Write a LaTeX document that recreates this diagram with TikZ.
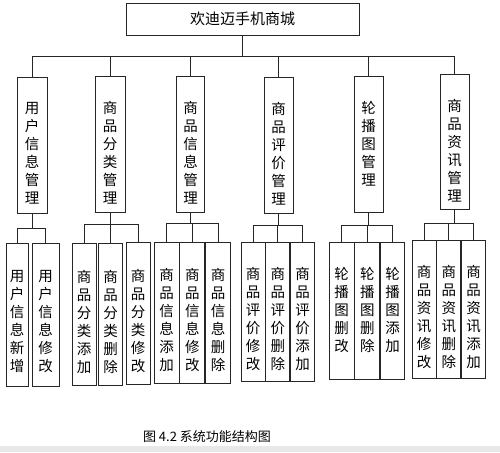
\documentclass[tikz,border=0pt]{standalone}
\usepackage{fontspec}
\setmainfont{Noto Sans CJK SC}
\usetikzlibrary{positioning}

\begin{document}
\begin{tikzpicture}[x=1pt, y=-1pt,
  every node/.style={font=\fontsize{14}{18}\selectfont},
  topbox/.style={draw=black!85, line width=0.8pt, minimum width=233pt, minimum height=32pt,
                 inner sep=0pt, font=\fontsize{15}{17}\selectfont},
  modbox/.style={draw=black!85, line width=0.8pt, anchor=north, minimum width=29pt,
                 minimum height=136pt, inner sep=0pt},
  funbox/.style={draw=black!85, line width=0.8pt, anchor=north, minimum width=24pt,
                 minimum height=142pt, inner sep=0pt},
  vtext/.style={anchor=north, align=center, inner sep=0pt, yshift=-25pt,
                font=\fontsize{14.5}{18}\selectfont},
  link/.style={draw=black!85, line width=0.8pt}
]
  \useasboundingbox (0,0) rectangle (500,452);
  \fill[black!9] (0,446) rectangle (500,452);

  % top level
  \node[topbox] (top) at (242.5,19) {欢迪迈手机商城};

  % modules
  \node[modbox, minimum width=30pt, label={[vtext]north:{用\\户\\信\\息\\管\\理}}] (usr) at (32,77) {};
  \node[modbox, minimum width=30pt, label={[vtext]north:{商\\品\\分\\类\\管\\理}}] (cat) at (110,76) {};
  \node[modbox, minimum width=28pt, label={[vtext]north:{商\\品\\信\\息\\管\\理}}] (gds) at (190.5,76) {};
  \node[modbox, label={[vtext]north:{商\\品\\评\\价\\管\\理}}] (eva) at (278.5,77) {};
  \node[modbox, label={[vtext]north:{轮\\播\\图\\管\\理}}] (ban) at (368.5,76) {};
  \node[modbox, minimum height=135pt, label={[vtext]north:{商\\品\\资\\讯\\管\\理}}] (nws) at (454.5,74) {};

  % functions
  \node[funbox, minimum width=22pt, minimum height=143pt, label={[vtext, yshift=-2pt]north:{用\\户\\信\\息\\新\\增}}] (usr1) at (17,243) {};
  \node[funbox, minimum width=27pt, minimum height=143pt, label={[vtext, yshift=-2pt]north:{用\\户\\信\\息\\修\\改}}] (usr2) at (45.5,243) {};

  \node[funbox, label={[vtext, yshift=-2pt]north:{商\\品\\分\\类\\添\\加}}] (cat1) at (84,243) {};
  \node[funbox, label={[vtext, yshift=-2pt]north:{商\\品\\分\\类\\删\\除}}] (cat2) at (110.5,243) {};
  \node[funbox, label={[vtext, yshift=-2pt]north:{商\\品\\分\\类\\修\\改}}] (cat3) at (138,242) {};

  \node[funbox, minimum width=25pt, minimum height=141pt, label={[vtext, yshift=-1pt]north:{商\\品\\信\\息\\添\\加}}] (gds1) at (166.5,242) {};
  \node[funbox, minimum width=25pt, minimum height=141pt, right=0pt of gds1, label={[vtext, yshift=-1pt]north:{商\\品\\信\\息\\修\\改}}] (gds2) {};
  \node[funbox, minimum width=25pt, minimum height=141pt, right=0pt of gds2, label={[vtext, yshift=-1pt]north:{商\\品\\信\\息\\删\\除}}] (gds3) {};

  \node[funbox, minimum height=139pt, label={[vtext]north:{商\\品\\评\\价\\修\\改}}] (eva1) at (253,242) {};
  \node[funbox, minimum height=139pt, right=0pt of eva1, label={[vtext]north:{商\\品\\评\\价\\删\\除}}] (eva2) {};
  \node[funbox, minimum height=139pt, right=0pt of eva2, label={[vtext]north:{商\\品\\评\\价\\添\\加}}] (eva3) {};

  \node[funbox, minimum width=25pt, minimum height=137pt, label={[vtext]north:{轮\\播\\图\\删\\改}}] (ban1) at (341.5,242) {};
  \node[funbox, minimum width=25pt, minimum height=137pt, right=0pt of ban1, label={[vtext]north:{轮\\播\\图\\删\\除}}] (ban2) {};
  \node[funbox, minimum height=137pt, right=0pt of ban2, label={[vtext]north:{轮\\播\\图\\添\\加}}] (ban3) {};

  \node[funbox, minimum height=138pt, label={[vtext]north:{商\\品\\资\\讯\\修\\改}}] (nws1) at (424,240) {};
  \node[funbox, minimum height=138pt, right=0pt of nws1, label={[vtext]north:{商\\品\\资\\讯\\删\\除}}] (nws2) {};
  \node[funbox, minimum height=138pt, right=0pt of nws2, label={[vtext]north:{商\\品\\资\\讯\\添\\加}}] (nws3) {};

  % connectors
  \foreach \m in {usr,cat,gds,eva,ban,nws}
    \draw[link] (top.south) -- ++(0,21) -| (\m.north);
  \foreach \f in {usr1,usr2}
    \draw[link] (usr.south) -- ++(0,15) -| (\f.north);
  \foreach \f in {cat1,cat2,cat3}
    \draw[link] (cat.south) -- ++(0,12) -| (\f.north);
  \foreach \f in {gds1,gds2,gds3}
    \draw[link] (gds.south) -- ++(0,11) -| (\f.north);
  \foreach \f in {eva1,eva2,eva3}
    \draw[link] (eva.south) -- ++(0,12) -| (\f.north);
  \foreach \f in {ban1,ban2,ban3}
    \draw[link] (ban.south) -- ++(0,13) -| (\f.north);
  \foreach \f in {nws1,nws2,nws3}
    \draw[link] (nws.south) -- ++(0,14) -| (\f.north);

  % caption
  \node[font=\fontsize{13}{15}\selectfont] (cap) at (207,437) {图 4.2 系统功能结构图};
\end{tikzpicture}
\end{document}
